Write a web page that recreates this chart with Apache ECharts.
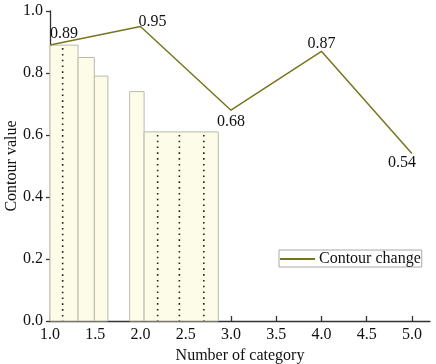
<!DOCTYPE html>
<html>
<head>
<meta charset="utf-8">
<script src="https://cdn.jsdelivr.net/npm/echarts@6/dist/echarts.min.js"></script>
<style>html,body{margin:0;padding:0;background:#fff;}#c{width:436px;height:364px;}</style>
</head>
<body>
<div id="c"></div>
<script>
// Histogram-like bars (bin edges and heights)
var binStart = [1.0, 1.31, 1.49, 1.88, 2.04];
var binEnd = [1.31, 1.49, 1.64, 2.04, 2.86];
var barValues = [0.89, 0.85, 0.79, 0.74, 0.61];
// Dotted markers inside bars
var dotX = [1.14, 2.19, 2.43, 2.70];
var dotTop = [0.89, 0.61, 0.61, 0.61];
// Contour change line
var lineX = [1, 2, 3, 4, 5];
var lineY = [0.89, 0.95, 0.68, 0.87, 0.54];
var xTicks = [1.0, 1.5, 2.0, 2.5, 3.0, 3.5, 4.0, 4.5, 5.0];
var yTicks = [0.0, 0.2, 0.4, 0.6, 0.8, 1.0];

var FONT = 'Liberation Serif';
var lineColor = '#77761f';

var barData = binStart.map(function (s, i) { return [s, binEnd[i], barValues[i]]; });
var dotData = dotX.map(function (x, i) { return [x, dotTop[i]]; });

var labelStyles = [
  { position: 'top', offset: [14, 2] },
  { position: 'top', offset: [12, 8] },
  { position: 'bottom', offset: [0, -1] },
  { position: 'top', offset: [0, 5] },
  { position: 'bottom', offset: [-10, -4] }
];
var lineData = lineX.map(function (x, i) {
  return { value: [x, lineY[i]], label: labelStyles[i] };
});

var chart = echarts.init(document.getElementById('c'), null, { renderer: 'canvas' });
chart.setOption({
  animation: false,
  backgroundColor: '#fff',
  textStyle: { fontFamily: FONT },
  grid: { left: 50, right: 6, top: 11, bottom: 43, containLabel: false, outerBoundsMode: 'none' },
  legend: {
    show: true,
    left: 279, top: 250,
    data: [{ name: 'Contour change', icon: 'rect' }],
    itemWidth: 35, itemHeight: 2, itemGap: 0,
    padding: [1, 1, 0, 1],
    borderColor: '#a8a8a8', borderWidth: 1,
    backgroundColor: '#fff',
    textStyle: { fontFamily: FONT, fontSize: 16, color: '#111', padding: [0, 0, 0, -1] }
  },
  xAxis: {
    type: 'value', min: 1, max: 5.2,
    name: 'Number of category', nameLocation: 'middle', nameGap: 27, nameMoveOverlap: false,
    nameTextStyle: { fontFamily: FONT, fontSize: 16, color: '#111' },
    axisLine: { show: true, lineStyle: { color: '#333', width: 1.3 } },
    axisTick: { show: true, inside: true, length: 5, customValues: xTicks, lineStyle: { color: '#333', width: 1.3 } },
    axisLabel: { customValues: xTicks, margin: 6, fontFamily: FONT, fontSize: 16, color: '#111',
      formatter: function (v) { return v.toFixed(1); } },
    splitLine: { show: false }
  },
  yAxis: {
    type: 'value', min: 0, max: 1, interval: 0.2,
    name: 'Contour value', nameLocation: 'middle', nameGap: 30, nameMoveOverlap: false,
    nameTextStyle: { fontFamily: FONT, fontSize: 16, color: '#111' },
    axisLine: { show: true, lineStyle: { color: '#333', width: 1.3 } },
    axisTick: { show: true, inside: false, length: 4, lineStyle: { color: '#333', width: 1.3 } },
    axisLabel: { margin: 7, fontFamily: FONT, fontSize: 16, color: '#111',
      formatter: function (v) { return v.toFixed(1); } },
    splitLine: { show: false }
  },
  series: [
    {
      type: 'custom', name: 'bars', z: 1,
      data: barData,
      renderItem: function (params, api) {
        var p0 = api.coord([api.value(0), api.value(2)]);
        var p1 = api.coord([api.value(1), 0]);
        return {
          type: 'rect',
          shape: { x: p0[0], y: p0[1], width: p1[0] - p0[0], height: p1[1] - p0[1] },
          style: { fill: '#fdfce8', stroke: '#bcbba8', lineWidth: 1 }
        };
      }
    },
    {
      type: 'custom', name: 'dots', z: 2,
      data: dotData,
      renderItem: function (params, api) {
        var top = api.coord([api.value(0), api.value(1)]);
        var bot = api.coord([api.value(0), 0]);
        return {
          type: 'line',
          shape: { x1: top[0], y1: top[1] + 3, x2: bot[0], y2: bot[1] },
          style: { stroke: '#222', lineWidth: 1.6, lineDash: [1.6, 4.2] }
        };
      }
    },
    {
      type: 'line', name: 'Contour change', z: 5,
      data: lineData,
      showSymbol: true, symbol: 'circle', symbolSize: 0,
      itemStyle: { color: lineColor },
      lineStyle: { color: lineColor, width: 1.5 },
      label: { show: true, fontFamily: FONT, fontSize: 16, color: '#111',
        formatter: function (p) { return p.value[1].toFixed(2); } },
      emphasis: { disabled: true }
    }
  ]
});
</script>
</body>
</html>
